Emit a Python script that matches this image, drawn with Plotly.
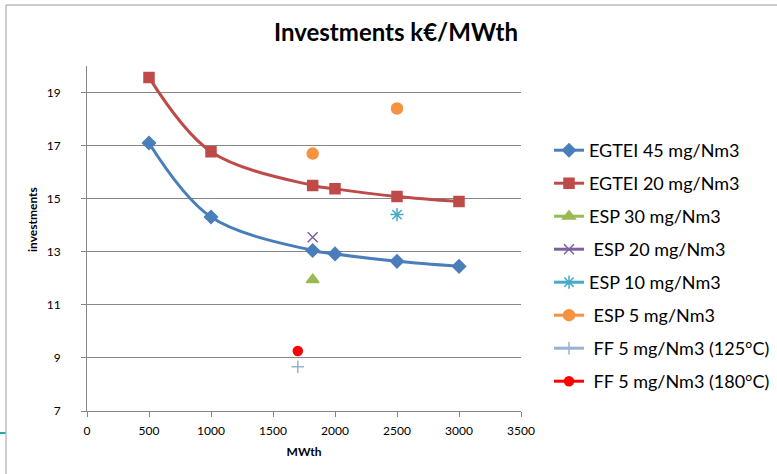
import plotly.graph_objects as go

# --- data -----------------------------------------------------------------
egtei_x = [500, 1000, 1820, 2000, 2500, 3000]
egtei45_y = [17.10, 14.31, 13.05, 12.92, 12.64, 12.45]
egtei20_y = [19.57, 16.77, 15.50, 15.37, 15.08, 14.89]

esp30_x, esp30_y = [1820], [11.95]
esp20_x, esp20_y = [1820], [13.55]
esp10_x, esp10_y = [2500], [14.40]
esp5_x, esp5_y = [1820, 2500], [16.70, 18.40]
ff125_x, ff125_y = [1700], [8.67]
ff180_x, ff180_y = [1700], [9.26]

x_ticks = [0, 500, 1000, 1500, 2000, 2500, 3000, 3500]
y_ticks = [7, 9, 11, 13, 15, 17, 19]

# --- geometry --------------------------------------------------------------
W, H = 777, 474
ML, MR, MT, MB = 87, 256, 66, 63
PW, PH = W - ML - MR, H - MT - MB


def px_x(px):
    return (px - ML) / PW


def px_y(py):
    return 1 - (py - MT) / PH


def unjoined(vals):
    """Separate points with gaps so a marker-only series keeps its legend line."""
    out = []
    for i, v in enumerate(vals):
        if i:
            out.append(None)
        out.append(v)
    return out


FONT = "Lato"
GRID = "#868686"

fig = go.Figure()

series = [
    dict(name="EGTEI 45 mg/Nm3", x=egtei_x, y=egtei45_y, color="#4A7EBB",
         symbol="diamond", size=10, line=True),
    dict(name="EGTEI 20 mg/Nm3", x=egtei_x, y=egtei20_y, color="#BE4B48",
         symbol="square", size=10, line=True),
    dict(name="ESP 30 mg/Nm3", x=esp30_x, y=esp30_y, color="#98B954",
         symbol="triangle-up", size=11),
    dict(name=" ESP 20 mg/Nm3", x=esp20_x, y=esp20_y, color="#7D60A0",
         symbol="x-thin-open", size=10),
    dict(name="ESP 10 mg/Nm3", x=esp10_x, y=esp10_y, color="#46AAC5",
         symbol="asterisk-open", size=11),
    dict(name=" ESP 5 mg/Nm3", x=esp5_x, y=esp5_y, color="#F69240",
         symbol="circle", size=11),
    dict(name=" FF 5 mg/Nm3 (125°C)", x=ff125_x, y=ff125_y, color="#95B3D7",
         symbol="cross-thin-open", size=9),
    dict(name=" FF 5 mg/Nm3 (180°C)", x=ff180_x, y=ff180_y, color="#FF0000",
         symbol="circle", size=9),
]

for i, s in enumerate(series):
    if s.get("line"):
        xs, ys = s["x"], s["y"]
        line = dict(color=s["color"], width=3, shape="spline", smoothing=1.0)
    else:
        xs, ys = unjoined(s["x"]), unjoined(s["y"])
        line = dict(color=s["color"], width=3)
    fig.add_trace(go.Scatter(
        x=xs, y=ys, name=s["name"],
        mode="lines+markers", connectgaps=False,
        legendgroup=f"g{i}",
        line=line,
        marker=dict(symbol=s["symbol"], size=s["size"], color=s["color"],
                    line=dict(color=s["color"], width=1.5)),
        cliponaxis=False,
    ))

# frame edges of the chart area and small accent stroke
shapes = [
    dict(type="line", xref="paper", yref="paper",
         x0=px_x(6), x1=px_x(6), y0=px_y(5), y1=px_y(H),
         line=dict(color="#9A9A9A", width=1)),
    dict(type="line", xref="paper", yref="paper",
         x0=px_x(6), x1=px_x(W), y0=px_y(5), y1=px_y(5),
         line=dict(color="#9A9A9A", width=1)),
    dict(type="line", xref="paper", yref="paper",
         x0=px_x(0), x1=px_x(5.5), y0=px_y(433), y1=px_y(433),
         line=dict(color="#2BA5A5", width=2)),
]

fig.update_layout(
    width=W, height=H,
    margin=dict(l=ML, r=MR, t=MT, b=MB, pad=0, autoexpand=False),
    paper_bgcolor="white", plot_bgcolor="white",
    font=dict(family=FONT, color="#000000"),
    title=dict(text="<b>Investments k€/MWth</b>", x=396 / W, xanchor="center",
               y=1 - 33 / H, yanchor="middle", xref="container", yref="container",
               font=dict(family=FONT, size=24, color="#000000")),
    showlegend=True,
    legend=dict(x=px_x(549), xanchor="left", y=px_y(132), yanchor="top",
                traceorder="grouped", tracegroupgap=6.6,
                font=dict(family=FONT, size=18, color="#000000"),
                bgcolor="rgba(0,0,0,0)", itemwidth=30),
    xaxis=dict(range=[0, 3500], tickvals=x_ticks, ticks="outside", ticklen=5,
               tickcolor=GRID, showline=True, linecolor=GRID, linewidth=1,
               showgrid=False, zeroline=False,
               tickfont=dict(family=FONT, size=12, color="#000000"),
               ticklabelstandoff=4,
               title=dict(text="<b>MWth</b>", standoff=10,
                          font=dict(family=FONT, size=12, color="#000000"))),
    yaxis=dict(range=[7, 20], tickvals=y_ticks, ticks="outside", ticklen=5,
               tickcolor=GRID, showline=True, linecolor=GRID, linewidth=1,
               showgrid=True, gridcolor=GRID, gridwidth=1, zeroline=False,
               tickfont=dict(family=FONT, size=12, color="#000000"),
               ticklabelstandoff=18),
    shapes=shapes,
    annotations=[dict(text="<b>investments</b>", textangle=-90,
                      xref="paper", yref="paper", x=px_x(33), y=px_y(220),
                      xanchor="center", yanchor="middle", showarrow=False,
                      font=dict(family=FONT, size=12, color="#000000"))],
)

fig.write_html("out.html")
